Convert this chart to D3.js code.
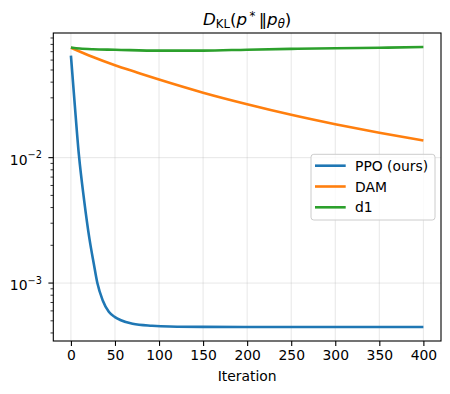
<!DOCTYPE html>
<html>
<head>
<meta charset="utf-8">
<script src="https://cdn.jsdelivr.net/npm/d3@7"></script>
<style>
  body { margin: 0; background: #fff; }
  svg { display: block; font-family: "DejaVu Sans", sans-serif; }
</style>
</head>
<body>
<svg id="chart"></svg>
<script>
// data (iteration, KL value)
const seriesNames = ["PPO (ours)", "DAM", "d1"];
const seriesColors = ["#1f77b4", "#ff7f0e", "#2ca02c"];

const ppoIter = [0, 4, 9, 15, 21, 26, 30, 36, 43, 50, 56, 70, 92, 112, 150, 250, 400];
const ppoVals = [0.065, 0.0285, 0.0106, 0.00457, 0.00226, 0.00142, 0.001, 0.00073, 0.00059,
                 0.000535, 0.000508, 0.000474, 0.000457, 0.00045, 0.000447, 0.000446, 0.000446];

const damIter = [0, 25, 50, 75, 100, 150, 200, 250, 300, 350, 400];
const damVals = [0.0753, 0.0634, 0.0545, 0.0478, 0.042, 0.033, 0.0267, 0.022, 0.0185, 0.0158, 0.0137];

const d1Iter = [0, 10, 25, 50, 100, 150, 200, 250, 300, 350, 400];
const d1Vals = [0.0755, 0.0741, 0.0731, 0.0725, 0.0713, 0.0714, 0.0726, 0.0737, 0.0745, 0.0753, 0.0762];

const xTicks = [0, 50, 100, 150, 200, 250, 300, 350, 400];
const yMajor = [1e-2, 1e-3];
const yMajorExp = ["\u22122", "\u22123"];

const width = 450, height = 394;
const mLeft = 53.3, mRight = 441, mTop = 33, mBottom = 341;

const svg = d3.select("#chart").attr("width", width).attr("height", height);

const x = d3.scaleLinear().domain([-20, 420]).range([mLeft, mRight]);
const y = d3.scaleLog().domain([Math.pow(10, -3.462), Math.pow(10, -1.006)]).range([mBottom, mTop]);

// grid
const grid = svg.append("g");
xTicks.forEach(t => {
  grid.append("line").attr("x1", x(t)).attr("x2", x(t)).attr("y1", mTop).attr("y2", mBottom)
    .attr("stroke", "#b0b0b0").attr("stroke-opacity", 0.3).attr("stroke-width", 1);
});
yMajor.forEach(t => {
  grid.append("line").attr("x1", mLeft).attr("x2", mRight).attr("y1", y(t)).attr("y2", y(t))
    .attr("stroke", "#b0b0b0").attr("stroke-opacity", 0.3).attr("stroke-width", 1);
});

// lines
const line = d3.line().x(d => x(d[0])).y(d => y(d[1])).curve(d3.curveMonotoneX);
const series = [
  d3.zip(ppoIter, ppoVals),
  d3.zip(damIter, damVals),
  d3.zip(d1Iter, d1Vals)
];
svg.append("g").selectAll("path")
  .data(series)
  .enter()
  .append("path")
  .attr("d", line)
  .attr("fill", "none")
  .attr("stroke", (d, i) => seriesColors[i])
  .attr("stroke-width", 2.6)
  .attr("stroke-linejoin", "round")
  .attr("stroke-linecap", "butt");

// spines
svg.append("rect").attr("x", mLeft).attr("y", mTop).attr("width", mRight - mLeft).attr("height", mBottom - mTop)
  .attr("fill", "none").attr("stroke", "black").attr("stroke-width", 1.1);

// x axis
const xAxis = d3.axisBottom(x).tickValues(xTicks).tickSize(4.9).tickPadding(4.5);
const gx = svg.append("g").attr("transform", `translate(0,${mBottom})`).call(xAxis);
gx.select(".domain").remove();
gx.selectAll("line").attr("stroke", "black").attr("stroke-width", 1.1);
gx.selectAll("text").attr("font-size", "13.9px").attr("fill", "black")
  .attr("font-family", "DejaVu Sans");

svg.append("text").attr("x", (mLeft + mRight) / 2).attr("y", 381)
  .attr("text-anchor", "middle").attr("font-size", "13.9px").text("Iteration");

// y axis (log): minor ticks
const yMinor = [];
[1e-4, 1e-3, 1e-2].forEach(dec => {
  for (let k = 2; k <= 9; k++) {
    const v = dec * k;
    if (v >= y.domain()[0] && v <= y.domain()[1]) yMinor.push(v);
  }
});
const gy = svg.append("g");
gy.selectAll(".minor").data(yMinor).enter().append("line")
  .attr("x1", mLeft - 2.8).attr("x2", mLeft).attr("y1", d => y(d)).attr("y2", d => y(d))
  .attr("stroke", "black").attr("stroke-width", 0.8);
gy.selectAll(".major").data(yMajor).enter().append("line")
  .attr("x1", mLeft - 4.9).attr("x2", mLeft).attr("y1", d => y(d)).attr("y2", d => y(d))
  .attr("stroke", "black").attr("stroke-width", 1.1);
const ylab = gy.selectAll(".ylab").data(yMajor).enter().append("text")
  .attr("x", mLeft - 11.5).attr("y", d => y(d) + 7)
  .attr("text-anchor", "end").attr("font-size", "13.9px");
ylab.append("tspan").text("10");
ylab.append("tspan").attr("dy", -6.5).attr("font-size", "9.7px").text((d, i) => yMajorExp[i]);

// title
const title = svg.append("text").attr("x", (mLeft + mRight) / 2).attr("y", 25)
  .attr("text-anchor", "middle").attr("font-size", "16.7px");
title.append("tspan").attr("font-style", "italic").text("D");
title.append("tspan").attr("font-size", "11.7px").attr("dy", 3).text("KL");
title.append("tspan").attr("dy", -3).text("(");
title.append("tspan").attr("font-style", "italic").text("p");
title.append("tspan").attr("font-size", "11.7px").attr("dy", -5).text("\u2009*");
title.append("tspan").attr("dy", 5).text("\u2009\u2016");
title.append("tspan").attr("font-style", "italic").text("p");
title.append("tspan").attr("font-size", "11.7px").attr("font-style", "italic").attr("dy", 3).text("\u03b8");
title.append("tspan").attr("dy", -3).text(")");

// legend
const legend = svg.append("g");
legend.append("rect").attr("x", 311).attr("y", 154.3).attr("width", 124).attr("height", 65.7)
  .attr("rx", 2.8).attr("fill", "white").attr("fill-opacity", 0.8)
  .attr("stroke", "#cccccc").attr("stroke-width", 1);
const rows = legend.selectAll(".row").data(seriesNames).enter().append("g")
  .attr("transform", (d, i) => `translate(0,${165.7 + i * 20.8})`);
rows.append("line").attr("x1", 315).attr("x2", 345.7).attr("y1", 0).attr("y2", 0)
  .attr("stroke", (d, i) => seriesColors[i]).attr("stroke-width", 2.6);
rows.append("text").attr("x", 355).attr("y", 5).attr("font-size", "13.9px").text(d => d);
</script>
</body>
</html>
